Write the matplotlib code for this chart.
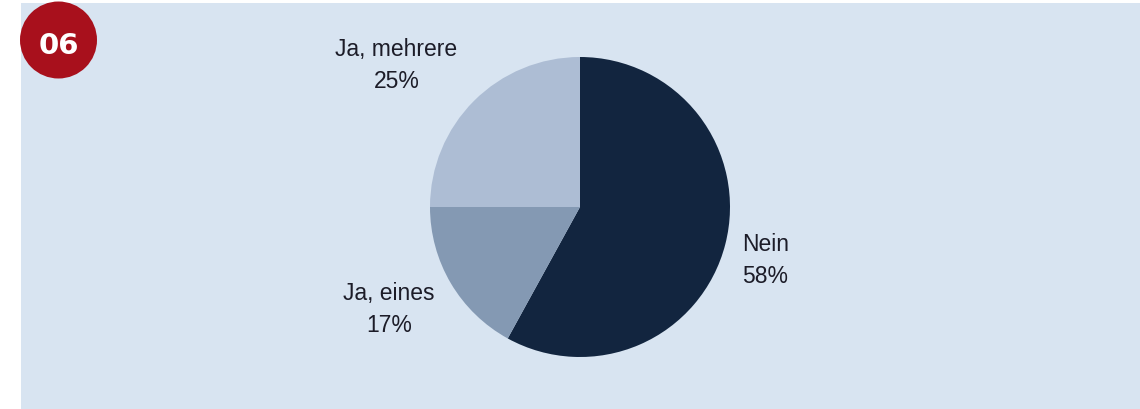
import matplotlib
matplotlib.use("Agg")
import matplotlib.pyplot as plt
from matplotlib.patches import Rectangle, Circle

categories = ["Nein", "Ja, eines", "Ja, mehrere"]
values = [58, 17, 25]
colors = ["#12253f", "#8499b3", "#adbdd4"]
badge_text = "06"

plt.rcParams['font.family'] = ['Liberation Sans', 'DejaVu Sans']

W, H = 1140, 410
fig = plt.figure(figsize=(W / 100, H / 100), dpi=100)
fig.patch.set_facecolor("white")
ax = fig.add_axes([0, 0, 1, 1])

ax.add_patch(Rectangle((21, 0), W - 21, 406, facecolor="#d8e4f1", edgecolor="none", zorder=0))
ax.add_patch(Circle((58.5, 369), 38.5, facecolor="#a8101c", edgecolor="none", zorder=1))
ax.text(58.5, 356, badge_text, color="white", fontsize=21, fontweight="bold",
        family=["DejaVu Sans"], ha="center", va="baseline", zorder=2)

ax.pie(values, colors=colors, startangle=90, counterclock=False,
       center=(580, 202), radius=150, frame=True,
       wedgeprops=dict(linewidth=0))
ax.set_xlim(0, W)
ax.set_ylim(0, H)
ax.set_aspect("auto")
ax.axis("off")

txt = "#1c1c28"
fs = 16.5
# label positions (pixel coords, y up)
label_pos = {
    "Nein": (742, 159, 127, "left"),
    "Ja, eines": (389, 109.5, 77.5, "center"),
    "Ja, mehrere": (396.5, 354, 322, "center"),
}
for cat, val in zip(categories, values):
    x, y1, y2, ha = label_pos[cat]
    ax.text(x, y1, cat, fontsize=fs, color=txt, ha=ha, va="baseline")
    ax.text(x, y2, f"{val}%", fontsize=fs, color=txt, ha=ha, va="baseline")

fig.savefig("out.png", dpi=100, facecolor=fig.get_facecolor())
